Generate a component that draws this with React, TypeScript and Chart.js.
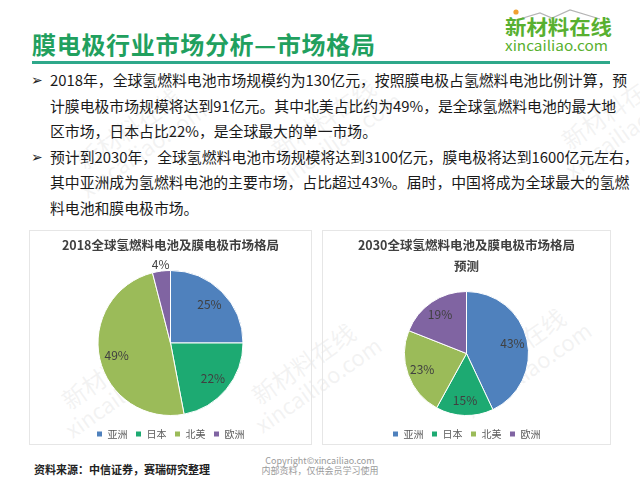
import React, { useEffect, useRef } from "react";
import { Chart, registerables } from "chart.js";

Chart.register(...registerables);

const categories = ["亚洲", "日本", "北美", "欧洲"];
const share2018 = [25, 22, 49, 4];
const share2030 = [43, 15, 23, 19];
const sliceColors = ["#4F81BD", "#1DAA72", "#9BBB59", "#8064A2"];
const title2018 = "2018全球氢燃料电池及膜电极市场格局";
const title2030 = ["2030全球氢燃料电池及膜电极市场格局", "预测"];

const pageTitle = "膜电极行业市场分析—市场格局";
const bulletLines = [
  { bullet: true, text: "2018年，全球氢燃料电池市场规模约为130亿元，按照膜电极占氢燃料电池比例计算，预" },
  { bullet: false, text: "计膜电极市场规模将达到91亿元。其中北美占比约为49%，是全球氢燃料电池的最大地" },
  { bullet: false, text: "区市场，日本占比22%，是全球最大的单一市场。" },
  { bullet: true, text: "预计到2030年，全球氢燃料电池市场规模将达到3100亿元，膜电极将达到1600亿元左右，" },
  { bullet: false, text: "其中亚洲成为氢燃料电池的主要市场，占比超过43%。届时，中国将成为全球最大的氢燃" },
  { bullet: false, text: "料电池和膜电极市场。" },
];
const sourceText = "资料来源：中信证券，赛瑞研究整理";
const copyrightLines = ["Copyright©xincailiao.com", "内部资料，仅供会员学习使用"];
const logoName = "新材料在线";
const logoDomain = "xincailiao.com";

const FONT = '"Noto Sans CJK SC", "Noto Sans", "DejaVu Sans", sans-serif';

const labelPlugin = {
  id: "sliceLabels",
  afterDatasetsDraw(chart: any) {
    const ctx = chart.ctx;
    const meta = chart.getDatasetMeta(0);
    const values = chart.data.datasets[0].data as number[];
    ctx.save();
    ctx.font = `12px ${FONT}`;
    ctx.fillStyle = "#404040";
    ctx.textAlign = "center";
    ctx.textBaseline = "middle";
    meta.data.forEach((arc: any, i: number) => {
      const p = arc.getProps(["x", "y", "startAngle", "endAngle", "outerRadius"], true);
      const mid = (p.startAngle + p.endAngle) / 2;
      const v = values[i];
      const f = v < 5 ? 1.09 : 0.76;
      ctx.fillText(v + "%", p.x + Math.cos(mid) * p.outerRadius * f, p.y + Math.sin(mid) * p.outerRadius * f);
    });
    ctx.restore();
  },
};

const legendShift = {
  id: "legendShift",
  afterLayout(chart: any) {
    if (chart.legend) {
      chart.legend.top += 5;
      chart.legend.bottom += 5;
    }
  },
};

function PieBox(props: { left: number; width: number; values: number[]; title: string | string[] }) {
  const ref = useRef<HTMLCanvasElement>(null);
  useEffect(() => {
    if (!ref.current) return;
    const chart = new Chart(ref.current, {
      type: "pie",
      data: {
        labels: categories,
        datasets: [
          {
            data: props.values,
            backgroundColor: sliceColors,
            borderColor: "#ffffff",
            borderWidth: 1,
          },
        ],
      },
      options: {
        responsive: false,
        animation: false,
        layout: { padding: 0 },
        plugins: {
          title: {
            display: true,
            text: props.title,
            color: "#404040",
            font: { family: FONT, size: 12.5, weight: "bold", lineHeight: 1.68 },
            padding: { top: 3.5, bottom: 14.5 },
          },
          legend: {
            display: true,
            position: "bottom",
            labels: {
              boxWidth: 6,
              boxHeight: 6,
              padding: 8,
              color: "#595959",
              font: { family: FONT, size: 10 },
            },
          },
          tooltip: { enabled: false },
        },
      },
      plugins: [labelPlugin, legendShift],
    } as any);
    return () => chart.destroy();
  }, []);
  return (
    <div
      style={{
        position: "absolute",
        left: props.left,
        top: 230,
        width: props.width,
        height: 215,
        border: "1px solid #e6e6e6",
        boxSizing: "border-box",
      }}
    >
      <canvas ref={ref} width={props.width - 2} height={213} style={{ display: "block" }} />
    </div>
  );
}

const watermarks = [
  { x: 60, y: 160 },
  { x: 255, y: 150 },
  { x: 545, y: 140 },
  { x: 45, y: 400 },
  { x: 235, y: 395 },
  { x: 445, y: 380 },
];

export default function App() {
  const lineTops = [80, 105.5, 131, 156.5, 182, 207.5];
  return (
    <div
      style={{
        position: "fixed",
        left: 0,
        top: 0,
        width: 640,
        height: 480,
        background: "#ffffff",
        fontFamily: FONT,
        overflow: "hidden",
      }}
    >
      <div
        style={{
          position: "absolute",
          left: 32,
          top: 31,
          fontSize: 24,
          lineHeight: "26px",
          letterSpacing: "0.7px",
          fontWeight: "bold",
          color: "#21A05E",
          whiteSpace: "nowrap",
        }}
      >
        {pageTitle}
      </div>
      <svg style={{ position: "absolute", left: 0, top: 0 }} width={640} height={60}>
        <circle cx={516} cy={12} r={2.6} fill="#F0A030" />
        <polyline points="513,21 540,13 552,18 570,10 600,19" fill="none" stroke="#b5b5b5" strokeWidth={1.2} />
        <text
          x={505}
          y={35}
          fontSize={20}
          fontWeight="bold"
          fill="#58B030"
          textLength={107}
          lengthAdjust="spacingAndGlyphs"
          style={{ fontFamily: FONT }}
        >
          {logoName}
        </text>
        <text
          x={505}
          y={51}
          fontSize={14}
          fill="#58B030"
          textLength={103}
          lengthAdjust="spacingAndGlyphs"
          style={{ fontFamily: FONT }}
        >
          {logoDomain}
        </text>
      </svg>
      <div style={{ position: "absolute", left: 32, top: 61, width: 578, height: 2.5, background: "#2EA88A" }} />
      {watermarks.map((w, i) => (
        <div
          key={i}
          style={{
            position: "absolute",
            left: w.x,
            top: w.y,
            transform: "rotate(-35deg)",
            transformOrigin: "left top",
            color: "rgba(200,200,200,0.22)",
            pointerEvents: "none",
            whiteSpace: "nowrap",
          }}
        >
          <div style={{ fontSize: 24, lineHeight: "26px", marginLeft: 14 }}>新材料在线</div>
          <div style={{ fontSize: 22, lineHeight: "24px" }}>xincailiao.com</div>
        </div>
      ))}
      {bulletLines.map((l, i) => (
        <React.Fragment key={i}>
          {l.bullet && (
            <div
              style={{
                position: "absolute",
                left: 31,
                top: lineTops[i] - 9,
                fontSize: 14,
                lineHeight: "18px",
                color: "#222",
                fontFamily: '"DejaVu Sans", sans-serif',
              }}
            >
              ➢
            </div>
          )}
          <div
            style={{
              position: "absolute",
              left: 50,
              top: lineTops[i] - 10,
              fontSize: 14.85,
              lineHeight: "20px",
              color: "#1a1a1a",
              whiteSpace: "nowrap",
            }}
          >
            {l.text}
          </div>
        </React.Fragment>
      ))}
      <PieBox left={29} width={283} values={share2018} title={title2018} />
      <PieBox left={322} width={289} values={share2030} title={title2030} />
      <div
        style={{
          position: "absolute",
          left: 34,
          top: 462,
          fontSize: 11,
          lineHeight: "14px",
          fontWeight: "bold",
          color: "#222",
          whiteSpace: "nowrap",
        }}
      >
        {sourceText}
      </div>
      {copyrightLines.map((t, i) => (
        <div
          key={t}
          style={{
            position: "absolute",
            left: 220,
            width: 200,
            textAlign: "center",
            top: 455 + i * 10,
            fontSize: 9,
            lineHeight: "11px",
            color: "#9a9a9a",
            whiteSpace: "nowrap",
          }}
        >
          {t}
        </div>
      ))}
    </div>
  );
}
